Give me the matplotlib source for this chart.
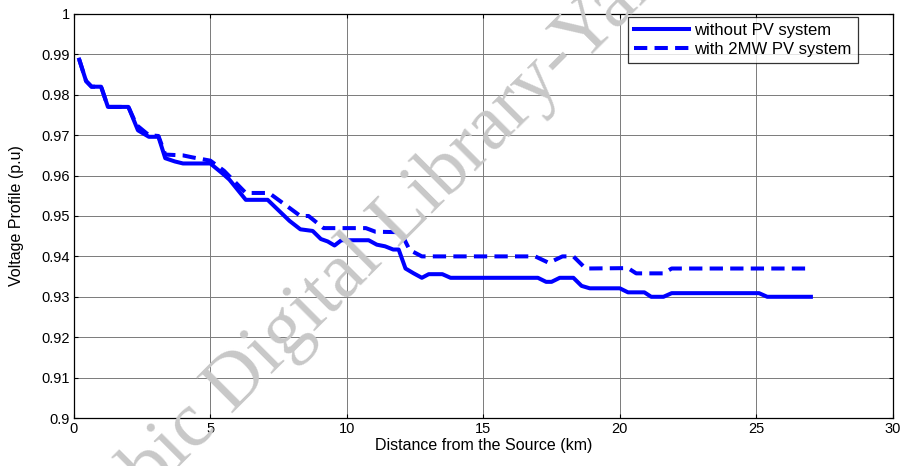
import matplotlib.pyplot as plt
from matplotlib.ticker import FixedLocator

plt.rcParams['font.family'] = ['Liberation Sans', 'DejaVu Sans']

# distance (km) and voltage (p.u)
dist_base = [0.2, 0.45, 0.65, 1.0, 1.25, 2.0, 2.35, 2.75, 3.1, 3.35, 3.7, 4.0,
             5.0, 5.45, 5.7, 6.3, 7.1, 7.9, 8.3, 8.75, 9.05, 9.3, 9.55, 9.8,
             10.8, 11.1, 11.4, 11.7, 11.9, 12.15, 12.45, 12.75, 13.0, 13.5,
             13.8, 17.0, 17.3, 17.5, 17.8, 18.3, 18.6, 18.9, 20.0, 20.3, 20.9,
             21.15, 21.6, 21.9, 25.1, 25.4, 27.0]
v_base = [0.9887, 0.9834, 0.982, 0.982, 0.977, 0.977, 0.9712, 0.9696, 0.9696,
          0.9643, 0.9635, 0.963, 0.963, 0.9605, 0.959, 0.954, 0.954, 0.9488,
          0.9467, 0.9463, 0.9443, 0.9437, 0.9427, 0.944, 0.944, 0.9429,
          0.9425, 0.9417, 0.9417, 0.937, 0.9358, 0.9347, 0.9356, 0.9356,
          0.9347, 0.9347, 0.9337, 0.9337, 0.9347, 0.9347, 0.9327, 0.9321,
          0.9321, 0.9311, 0.9311, 0.930, 0.930, 0.9309, 0.9309, 0.930, 0.930]

dist_pv = [0.2, 0.45, 0.65, 1.0, 1.25, 2.0, 2.3, 2.75, 3.1, 3.35, 4.0, 4.35,
           5.0, 5.5, 6.3, 7.15, 7.9, 8.3, 8.6, 9.15, 10.7, 11.05, 11.9, 12.05,
           12.3, 12.75, 16.9, 17.4, 17.9, 18.3, 18.75, 20.3, 20.6, 21.6, 21.9,
           27.0]
v_pv = [0.9887, 0.9834, 0.982, 0.982, 0.977, 0.977, 0.9725, 0.970, 0.9698,
        0.9652, 0.965, 0.9645, 0.9637, 0.9612, 0.9557, 0.9557, 0.952, 0.950,
        0.950, 0.947, 0.947, 0.9461, 0.946, 0.945, 0.9416, 0.940, 0.940,
        0.9384, 0.940, 0.940, 0.937, 0.9371, 0.9358, 0.9358, 0.937, 0.937]

x_ticks = [0, 5, 10, 15, 20, 25, 30]
y_ticks = [0.9, 0.91, 0.92, 0.93, 0.94, 0.95, 0.96, 0.97, 0.98, 0.99, 1.0]
y_labels = ['0.9', '0.91', '0.92', '0.93', '0.94', '0.95', '0.96', '0.97',
            '0.98', '0.99', '1']

fig = plt.figure(figsize=(9, 4.66), dpi=100)
ax = fig.add_axes([0.082, 0.103, 0.91, 0.867])

ax.plot(dist_base, v_base, color='#0000ff', lw=2.9, solid_joinstyle='round',
        label='without PV system')
ax.plot(dist_pv, v_pv, color='#0000ff', lw=2.9, linestyle=(0, (3.3, 1.8)),
        label='with 2MW PV system')

ax.set_xlim(0, 30)
ax.set_ylim(0.9, 1.0)
ax.xaxis.set_major_locator(FixedLocator(x_ticks))
ax.set_yticks(y_ticks)
ax.set_yticklabels(y_labels)
ax.tick_params(direction='in', length=3, width=0.8, labelsize=10.5,
               top=True, right=True, pad=3)
ax.grid(True, color='#7a7a7a', lw=0.7)
for s in ax.spines.values():
    s.set_linewidth(0.9)

ax.set_xlabel('Distance from the Source (km)', fontsize=11.5, labelpad=1)
ax.set_ylabel('Voltage Profile (p.u)', fontsize=11.5, labelpad=12)

leg = ax.legend(loc='upper right', bbox_to_anchor=(0.957, 0.993),
                fontsize=12, frameon=True, fancybox=False,
                handlelength=3.3, borderpad=0.35, labelspacing=0.25,
                handletextpad=0.35, borderaxespad=0)
leg.get_frame().set_edgecolor('black')
leg.get_frame().set_linewidth(0.9)

# watermark
fig.text(0.075, -0.24, 'Arabic Digital Library-Yarmouk University',
         rotation=45, rotation_mode='anchor', ha='left', va='baseline',
         fontsize=56, family='Liberation Serif', color='#c8c8c8', zorder=0.5)

fig.savefig('out.png', dpi=100)
